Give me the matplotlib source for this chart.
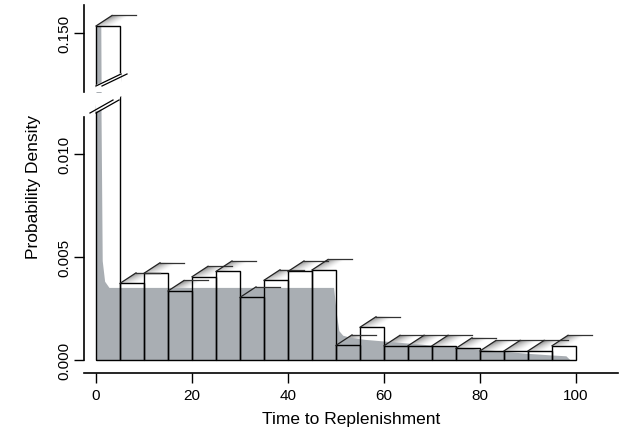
import numpy as np
import matplotlib
matplotlib.use('Agg')
import matplotlib.pyplot as plt
from matplotlib.patches import Polygon

plt.rcParams['font.family'] = ['Liberation Sans', 'DejaVu Sans']

# histogram bins (width 5) and densities
edges = np.arange(0, 105, 5)
heights = [0.157, 0.00372, 0.00421, 0.00335, 0.00404, 0.00430, 0.00304,
           0.00387, 0.00430, 0.00437, 0.00071, 0.00159, 0.00069, 0.00069,
           0.00069, 0.00057, 0.00044, 0.00044, 0.00044, 0.00069]

# smoothed density curve (gray area)
dens_x = [0, 1.0, 1.15, 1.4, 1.9, 2.8, 49.6, 50.2, 50.7, 51.5, 53, 56, 60,
          65, 70, 75, 80, 85, 90, 95, 98, 98.8]
dens_y = [0.157, 0.157, 0.012, 0.0048, 0.0038, 0.0035, 0.0035, 0.0022,
          0.0014, 0.00118, 0.00108, 0.00098, 0.0009, 0.0008, 0.0007,
          0.00062, 0.0005, 0.0004, 0.0003, 0.00022, 0.00018, 0]

xticks = [0, 20, 40, 60, 80, 100]
yticks_low = [0.0, 0.005, 0.010]
yticks_high = [0.150]

W, H = 620, 435
GRAY = '#a9aeb3'
DX, DY = 16, 10.5  # depth of the bar tops, pixels

fig = plt.figure(figsize=(W / 100, H / 100), dpi=100)
ax = fig.add_axes([84 / W, 1 - 374 / H, 534 / W, 277 / H])
ax_top = fig.add_axes([84 / W, 1 - 93 / H, 534 / W, 87 / H])

XLIM = (-2.5, 108.75)
ax.set_xlim(*XLIM)
ax.set_ylim(-0.000631, 0.012816)
ax_top.set_xlim(*XLIM)
ax_top.set_ylim(0.091, 0.178)


def shift(a, x, y, dxp, dyp):
    p = a.transData.transform((x, y))
    return a.transData.inverted().transform((p[0] + dxp, p[1] + dyp))


def draw_bars(a, idx):
    left = edges[:-1][idx]
    h = np.array(heights)[idx]
    a.bar(left, h, width=5, align='edge', color='white', edgecolor='none', zorder=1)
    a.bar(left, h, width=5, align='edge', fill=False, edgecolor='black',
          linewidth=1.0, zorder=4)


def draw_top(a, x0, x1, h):
    # shaded top face of a bar: gray at the back-left, white at the front-right
    p0 = a.transData.transform((x0, h))
    p1 = a.transData.transform((x1, h))
    wpx = p1[0] - p0[0]
    nx, ny = 60, 20
    gx = np.linspace(0, wpx + DX, nx)
    gy = np.linspace(0, DY, ny)
    GX, GY = np.meshgrid(gx, gy)
    v = GY / DY
    u = np.clip((GX - v * DX) / wpx, 0, 1)
    shade = 1 - 0.5 * np.clip(1 - u / 0.75, 0, 1) ** 1.3 * (0.45 + 0.55 * v)
    bl = a.transData.inverted().transform((p0[0], p0[1]))
    tr = a.transData.inverted().transform((p0[0] + wpx + DX, p0[1] + DY))
    img = a.imshow(shade, cmap='gray', vmin=0, vmax=1, origin='lower',
                   extent=(bl[0], tr[0], bl[1], tr[1]), aspect='auto',
                   interpolation='bilinear', zorder=1.5)
    b0 = shift(a, x0, h, DX, DY)
    b1 = shift(a, x1, h, DX, DY)
    face = Polygon([(x0, h), (x1, h), tuple(b1), tuple(b0)], closed=True,
                   facecolor='none', edgecolor='none', transform=a.transData)
    a.add_patch(face)
    img.set_clip_path(face)
    a.plot([x0, b0[0]], [h, b0[1]], color='#222222', lw=0.9, zorder=4)
    a.plot([b0[0], b1[0]], [b0[1], b1[1]], color='#333333', lw=0.9, zorder=4)


# lower panel
draw_bars(ax, slice(0, 20))
for i in range(1, 20):
    draw_top(ax, edges[i], edges[i + 1], heights[i])
ax.fill_between(dens_x, dens_y, color=GRAY, lw=0, zorder=2)

# upper panel
draw_bars(ax_top, slice(0, 1))
draw_top(ax_top, edges[0], edges[1], heights[0])
ax_top.fill_between(dens_x, dens_y, color=GRAY, lw=0, zorder=2)

ax.set_xlim(*XLIM)
ax.set_ylim(-0.000631, 0.012816)
ax_top.set_xlim(*XLIM)
ax_top.set_ylim(0.091, 0.178)


def cut(a, p_left, p_right, off, above):
    # hide part of the first bar beyond a slanted break and draw break marks
    inv = a.transData.inverted()
    pl = (p_left[0], H - p_left[1])
    pr = (p_right[0], H - p_right[1])
    y_edge = H - (97 if above else 93)
    poly = [pl, pr, (pr[0] + 2, y_edge), (pl[0] - 2, y_edge)]
    a.add_patch(Polygon(inv.transform(poly), closed=True, facecolor='white',
                        edgecolor='none', zorder=5, clip_on=False))
    for d in (0, off):
        q0 = inv.transform((pl[0] - d, pl[1] - 1))
        q1 = inv.transform((pr[0] - d, pr[1] - 1))
        a.plot([q0[0], q1[0]], [q0[1], q1[1]], color='black', lw=0.9,
               zorder=6, clip_on=False)


cut(ax, (96, 113), (119, 100), 6, True)
cut(ax_top, (96, 86), (121, 74), -6, False)

# axes styling
for a in (ax, ax_top):
    a.spines['top'].set_visible(False)
    a.spines['right'].set_visible(False)
    a.spines['left'].set_linewidth(1.2)
    a.tick_params(axis='y', length=7, width=1.0, labelsize=11, labelrotation=90, pad=2)

ax.spines['left'].set_bounds(0, 0.0118)
ax.spines['bottom'].set_linewidth(1.2)
ax.set_yticks(yticks_low)
ax.set_yticklabels(['0.000', '0.005', '0.010'])
ax.set_xticks(xticks)
ax.tick_params(axis='x', length=7, width=1.0, labelsize=11, pad=4)
ax.set_xlabel('Time to Replenishment', fontsize=12.5, labelpad=6)
ax.set_ylabel('Probability Density', fontsize=12.5, labelpad=8)
ax.yaxis.set_label_coords(-0.08, 0.675)

ax_top.spines['bottom'].set_visible(False)
ax_top.set_xticks([])
ax_top.set_yticks(yticks_high)
ax_top.set_yticklabels(['0.150'])

for a in (ax, ax_top):
    for lab in a.get_yticklabels():
        lab.set_va('center')

fig.savefig('out.png', dpi=100)
